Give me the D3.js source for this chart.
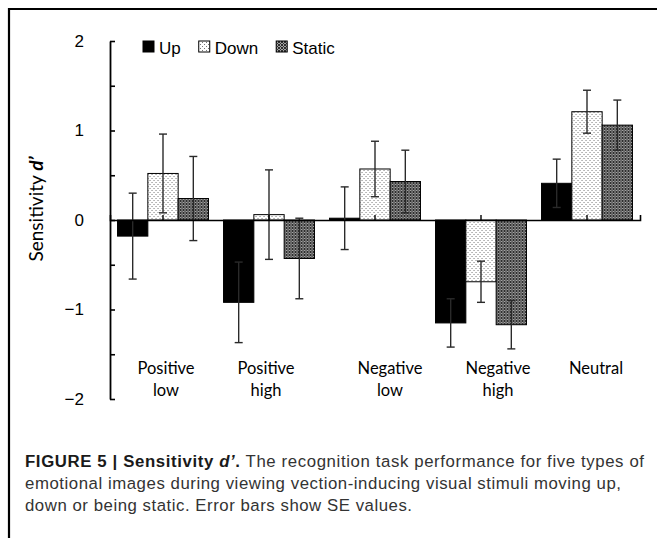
<!DOCTYPE html>
<html><head><meta charset="utf-8">
<script src="https://cdn.jsdelivr.net/npm/d3@7"></script>
<style>body{margin:0;background:#fff} svg{display:block}</style>
</head><body><svg id="c" width="657" height="538"></svg>
<script>
// ---- data ----
const categories = ["Positive low", "Positive high", "Negative low", "Negative high", "Neutral"];
const categoryLines = [["Positive", "low"], ["Positive", "high"], ["Negative", "low"], ["Negative", "high"], ["Neutral"]];
const series = ["Up", "Down", "Static"];
const upValues = [-0.18, -0.92, 0.02, -1.15, 0.41];
const upSE = [0.48, 0.45, 0.35, 0.27, 0.27];
const downValues = [0.52, 0.06, 0.57, -0.69, 1.21];
const downSE = [0.44, 0.50, 0.31, 0.23, 0.24];
const staticValues = [0.24, -0.43, 0.43, -1.17, 1.06];
const staticSE = [0.47, 0.45, 0.35, 0.27, 0.28];
const yTickValues = [-2, -1.5, -1, -0.5, 0, 0.5, 1, 1.5, 2];
const yLabelValues = [-2, -1, 0, 1, 2];

// ---- layout ----
const labelNudge = [3, -3, 15, 17, 9];
const svg = d3.select("#c");
const W = 657, H = 538;
const x0 = 110, x1 = 640;

const seriesValues = { Up: upValues, Down: downValues, Static: staticValues };
const seriesSE = { Up: upSE, Down: downSE, Static: staticSE };

const defs = svg.append("defs");
// dotted pattern (Down)
const pDown = defs.append("pattern").attr("id", "pDown").attr("patternUnits", "userSpaceOnUse")
  .attr("width", 4).attr("height", 4);
pDown.append("rect").attr("width", 4).attr("height", 4).attr("fill", "#fff");
pDown.append("rect").attr("x", 0).attr("y", 0).attr("width", 1).attr("height", 1).attr("fill", "#777");
pDown.append("rect").attr("x", 2).attr("y", 2).attr("width", 1).attr("height", 1).attr("fill", "#777");
// dense hatch (Static)
const pStatic = defs.append("pattern").attr("id", "pStatic").attr("patternUnits", "userSpaceOnUse")
  .attr("width", 3).attr("height", 3);
pStatic.append("rect").attr("width", 3).attr("height", 3).attr("fill", "#a4a4a4");
[[0,0],[1,1],[2,2],[2,0],[0,2]].forEach(([px,py]) =>
  pStatic.append("rect").attr("x", px).attr("y", py).attr("width", 1).attr("height", 1).attr("fill", "#2e2e2e"));

const fills = { Up: "#000", Down: "url(#pDown)", Static: "url(#pStatic)" };

svg.append("rect").attr("width", W).attr("height", H).attr("fill", "#fff");
// frame
svg.append("path").attr("d", "M9,538V9H657").attr("fill", "none").attr("stroke", "#000").attr("stroke-width", 2.2);

const y = d3.scaleLinear().domain([-2, 2]).range([399, 41]);
const xBand = d3.scaleBand().domain(categories).range([x0, x1]).paddingInner(0.142).paddingOuter(0.071);
const xSub = d3.scaleBand().domain(series).range([0, xBand.bandwidth()]);

// bars
const groups = svg.append("g").selectAll("g").data(categories).join("g")
  .attr("transform", d => `translate(${xBand(d)},0)`);
series.forEach(s => {
  groups.append("rect")
    .attr("x", xSub(s))
    .attr("width", xSub.bandwidth())
    .attr("y", (d, i) => Math.min(y(seriesValues[s][i]), y(0)))
    .attr("height", (d, i) => Math.abs(y(seriesValues[s][i]) - y(0)))
    .attr("fill", fills[s]).attr("stroke", "#000").attr("stroke-width", 1);
});
// error bars
series.forEach(s => {
  const cx = xSub(s) + xSub.bandwidth() / 2;
  const eb = groups.append("g").attr("stroke", "#2a2a2a").attr("stroke-width", 1.4);
  eb.append("line").attr("x1", cx).attr("x2", cx)
    .attr("y1", (d, i) => y(seriesValues[s][i] + seriesSE[s][i]))
    .attr("y2", (d, i) => y(seriesValues[s][i] - seriesSE[s][i]));
  eb.append("line").attr("x1", cx - 4).attr("x2", cx + 4)
    .attr("y1", (d, i) => y(seriesValues[s][i] + seriesSE[s][i]))
    .attr("y2", (d, i) => y(seriesValues[s][i] + seriesSE[s][i]));
  eb.append("line").attr("x1", cx - 4).attr("x2", cx + 4)
    .attr("y1", (d, i) => y(seriesValues[s][i] - seriesSE[s][i]))
    .attr("y2", (d, i) => y(seriesValues[s][i] - seriesSE[s][i]));
});

// y axis
const yAxis = d3.axisLeft(y).tickValues(yTickValues).tickSize(-5).tickSizeOuter(0).tickPadding(26)
  .tickFormat(v => yLabelValues.includes(v) ? d3.format("d")(v) : "");
const gy = svg.append("g").attr("transform", `translate(${x0},0)`).call(yAxis);
gy.select(".domain").attr("stroke-width", 1.8);
gy.selectAll(".tick line").attr("stroke-width", 1.6);
gy.selectAll("text").attr("font-family", "Liberation Sans, Arial, sans-serif").attr("font-size", 17).attr("fill", "#000");

// x axis at zero
const xAxis = d3.axisTop(xBand).tickSize(5).tickSizeOuter(5).tickFormat("");
const gx = svg.append("g").attr("transform", `translate(0,${y(0)})`).call(xAxis);
gx.select(".domain").attr("stroke-width", 1.6);
gx.selectAll(".tick line").attr("stroke-width", 1.4);

// category labels
const lab = svg.append("g").attr("font-family", "Lato, 'Open Sans', sans-serif").attr("font-size", 16.5)
  .attr("text-anchor", "middle").attr("fill", "#000");
categories.forEach((c, i) => {
  const cx = xBand(c) + xBand.bandwidth() / 2 + labelNudge[i];
  const t = lab.append("text").attr("x", cx);
  categoryLines[i].forEach((ln, j) => t.append("tspan").attr("x", cx).attr("y", 374 + j * 22).text(ln));
});

// y label
const yl = svg.append("text").attr("transform", "translate(43,209) rotate(-90)")
  .attr("text-anchor", "middle").attr("font-family", "Lato, 'Open Sans', sans-serif").attr("font-size", 19).attr("fill", "#000");
yl.append("tspan").text("Sensitivity ");
yl.append("tspan").attr("font-weight", "bold").attr("font-style", "italic").text("d’");

// legend
const leg = svg.append("g").attr("font-family", "Liberation Sans, Arial, sans-serif").attr("font-size", 17);
let lx = 143;
series.forEach(s => {
  leg.append("rect").attr("x", lx).attr("y", 41).attr("width", 11).attr("height", 11)
    .attr("fill", fills[s]).attr("stroke", "#000").attr("stroke-width", 1);
  const t = leg.append("text").attr("x", lx + 16).attr("y", 54).text(s);
  lx = lx + 16 + t.node().getComputedTextLength() + 18;
});

// caption
const cap = svg.append("g").attr("font-family", "Liberation Sans, Arial, sans-serif").attr("font-size", 16.8).attr("fill", "#333");
const c1 = cap.append("text").attr("x", 25).attr("y", 467).attr("textLength", 619).attr("lengthAdjust", "spacing");
c1.append("tspan").attr("font-weight", "bold").attr("fill", "#1a1a1a").text("FIGURE 5 | Sensitivity ");
c1.append("tspan").attr("font-weight", "bold").attr("font-style", "italic").attr("fill", "#1a1a1a").text("d’");
c1.append("tspan").attr("font-weight", "bold").attr("fill", "#1a1a1a").text(".");
c1.append("tspan").text(" The recognition task performance for five types of");
cap.append("text").attr("x", 25).attr("y", 489).attr("textLength", 596).attr("lengthAdjust", "spacing")
  .text("emotional images during viewing vection-inducing visual stimuli moving up,");
cap.append("text").attr("x", 25).attr("y", 511).attr("textLength", 387).attr("lengthAdjust", "spacing")
  .text("down or being static. Error bars show SE values.");
</script></body></html>
